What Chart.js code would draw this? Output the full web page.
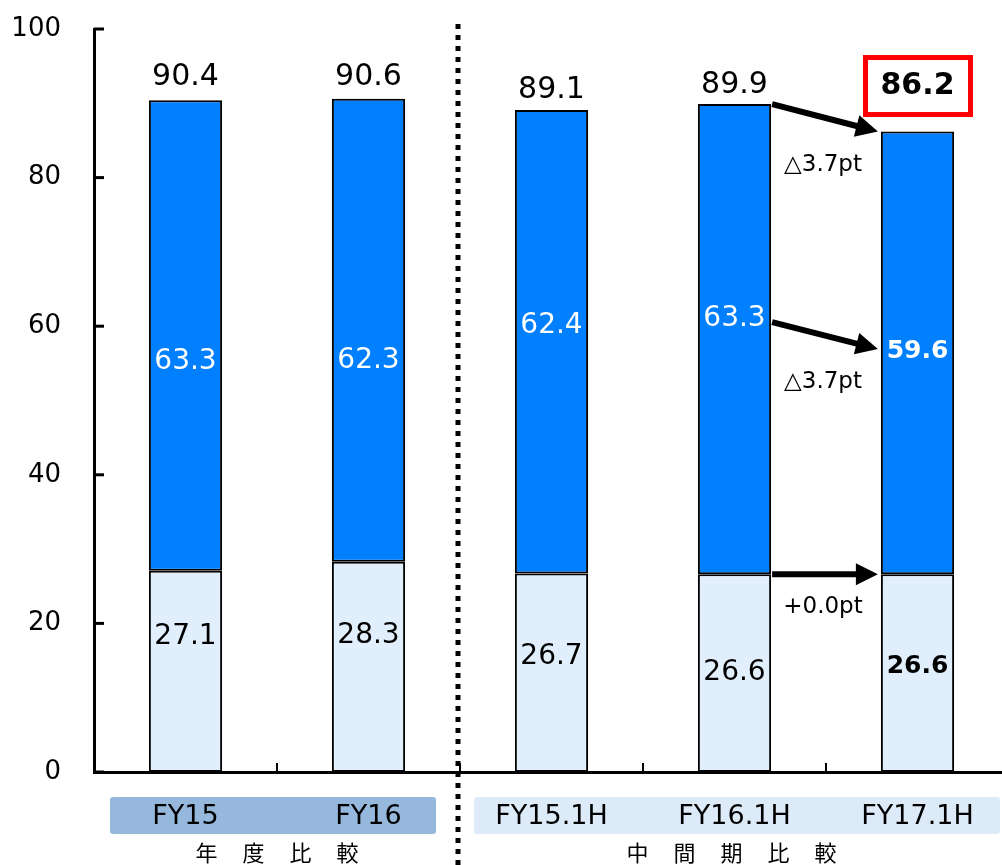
<!DOCTYPE html>
<html>
<head>
<meta charset="utf-8">
<script src="https://cdn.jsdelivr.net/npm/chart.js@4.4.1/dist/chart.umd.min.js"></script>
<style>
  html, body { margin: 0; padding: 0; background: #fff; overflow: hidden; }
  #wrap { width: 1002px; height: 865px; overflow: hidden; }
</style>
</head>
<body>
<div id="wrap"><canvas id="myChart" width="1010" height="865"></canvas></div>
<script>
// values
const categories = ["FY15", "FY16", "FY15.1H", "FY16.1H", "FY17.1H"];
const lowerValues = [27.1, 28.3, 26.7, 26.6, 26.6];
const upperValues = [63.3, 62.3, 62.4, 63.3, 59.6];
const totals = [90.4, 90.6, 89.1, 89.9, 86.2];
const yTicks = [0, 20, 40, 60, 80, 100];
const groupNames = ["年度比較", "中間期比較"];
const changeLabels = ["△3.7pt", "△3.7pt", "+0.0pt"];

const FONT = "'DejaVu Sans', Verdana, sans-serif";

// small nudges so labels sit where the original puts them
const lowNudge = [-35, -31, -16, 0, -7];
const upNudge = [26, 30, -16, -20, -1];
const totNudge = [-23, -22, -20, -19, -45];

function labelPos(chart, ds, i, nudge) {
  const bar = chart.getDatasetMeta(ds).data[i];
  return { x: bar.x, y: (bar.y + bar.base) / 2 + nudge[i] };
}

function arrow(ctx, x1, y1, x2, y2) {
  const ang = Math.atan2(y2 - y1, x2 - x1);
  const head = 22, half = 11;
  const bx = x2 - head * Math.cos(ang), by = y2 - head * Math.sin(ang);
  ctx.save();
  ctx.strokeStyle = "#000";
  ctx.fillStyle = "#000";
  ctx.lineWidth = 6;
  ctx.beginPath();
  ctx.moveTo(x1, y1);
  ctx.lineTo(bx + 2 * Math.cos(ang), by + 2 * Math.sin(ang));
  ctx.stroke();
  ctx.beginPath();
  ctx.moveTo(x2, y2);
  ctx.lineTo(bx + half * Math.sin(ang), by - half * Math.cos(ang));
  ctx.lineTo(bx - half * Math.sin(ang), by + half * Math.cos(ang));
  ctx.closePath();
  ctx.fill();
  ctx.restore();
}

const decor = {
  id: "decor",
  afterDraw(chart) {
    const ctx = chart.ctx;
    const area = chart.chartArea;
    const x = chart.scales.x, y = chart.scales.y;
    const n = categories.length;
    const step = (area.right - area.left) / n;

    ctx.save();
    // inner tick marks
    ctx.strokeStyle = "#000";
    ctx.lineWidth = 3;
    yTicks.forEach(v => {
      const py = y.getPixelForValue(v);
      ctx.beginPath();
      ctx.moveTo(area.left, py);
      ctx.lineTo(area.left + 10, py);
      ctx.stroke();
    });
    ctx.lineWidth = 2;
    for (let i = 1; i < n; i++) {
      const px = area.left + step * i;
      ctx.beginPath();
      ctx.moveTo(px, area.bottom);
      ctx.lineTo(px, area.bottom - 9);
      ctx.stroke();
    }

    // segment labels
    ctx.textAlign = "center";
    ctx.textBaseline = "middle";
    categories.forEach((c, i) => {
      const last = i === n - 1;
      let p = labelPos(chart, 0, i, lowNudge);
      ctx.fillStyle = "#000";
      ctx.font = (last ? "bold 25px " : "28px ") + FONT;
      ctx.fillText(lowerValues[i].toFixed(1), p.x, p.y);
      p = labelPos(chart, 1, i, upNudge);
      ctx.fillStyle = "#fff";
      ctx.fillText(upperValues[i].toFixed(1), p.x, p.y);
      const bar = chart.getDatasetMeta(1).data[i];
      ctx.fillStyle = "#000";
      ctx.font = (last ? "bold 30px " : "30px ") + FONT;
      const ty = y.getPixelForValue(totals[i]) + totNudge[i];
      ctx.fillText(totals[i].toFixed(1), bar.x, ty);
      if (last) {
        ctx.strokeStyle = "#ff0000";
        ctx.lineWidth = 5;
        ctx.strokeRect(bar.x - 52, ty - 29, 105, 57);
      }
    });

    // change arrows between the last two bars
    const a = chart.getDatasetMeta(1).data[n - 2];
    const b = chart.getDatasetMeta(1).data[n - 1];
    const x1 = a.x + a.width / 2 + 1, x2 = b.x - b.width / 2 - 3;
    const pairs = [
      [y.getPixelForValue(totals[n - 2]), y.getPixelForValue(totals[n - 1])],
      [labelPos(chart, 1, n - 2, upNudge).y + 3, labelPos(chart, 1, n - 1, upNudge).y - 3],
      [y.getPixelForValue(lowerValues[n - 2]), y.getPixelForValue(lowerValues[n - 1])]
    ];
    ctx.font = "23px " + FONT;
    ctx.fillStyle = "#000";
    pairs.forEach((pr, k) => {
      arrow(ctx, x1, pr[0], x2, pr[1]);
      ctx.fillText(changeLabels[k], (x1 + x2) / 2 - 2, pr[1] + 33);
    });

    // category boxes & group names
    const boxTop = area.bottom + 25, boxH = 37;
    ctx.fillStyle = "#95b8dc";
    ctx.beginPath();
    ctx.roundRect(area.left + 16, boxTop, 326, boxH, 3);
    ctx.fill();
    ctx.fillStyle = "#ddebf9";
    ctx.beginPath();
    ctx.roundRect(area.left + step * 2 + 14, boxTop, 526, boxH, 3);
    ctx.fill();
    ctx.fillStyle = "#000";
    ctx.font = "27px " + FONT;
    categories.forEach((c, i) => {
      ctx.fillText(c, x.getPixelForValue(i), boxTop + boxH / 2 + 1);
    });
    ctx.font = "22px 'Noto Sans CJK JP'";
    const g0 = (area.left + area.left + step * 2) / 2;
    const g1 = (area.left + step * 2 + area.right) / 2 - 3;
    [[groupNames[0], g0], [groupNames[1], g1]].forEach(([txt, cx]) => {
      const chars = Array.from(txt);
      const sp = 47;
      const start = cx - sp * (chars.length - 1) / 2;
      chars.forEach((ch, k) => ctx.fillText(ch, start + sp * k, area.bottom + 81));
    });

    // dotted divider
    ctx.strokeStyle = "#000";
    ctx.lineWidth = 5;
    ctx.setLineDash([5, 6]);
    const dx = area.left + step * 2 - 2;
    ctx.beginPath();
    ctx.moveTo(dx, 24);
    ctx.lineTo(dx, chart.height);
    ctx.stroke();
    ctx.restore();
  }
};

const ctx = document.getElementById("myChart").getContext("2d");
new Chart(ctx, {
  type: "bar",
  data: {
    labels: categories,
    datasets: [
      {
        data: lowerValues,
        backgroundColor: "#e1eefc",
        borderColor: "#000",
        borderWidth: 2,
        borderSkipped: false,
        barPercentage: 0.4,
        categoryPercentage: 1
      },
      {
        data: upperValues,
        backgroundColor: "#0080ff",
        borderColor: "#000",
        borderWidth: 2,
        borderSkipped: false,
        barPercentage: 0.4,
        categoryPercentage: 1
      }
    ]
  },
  options: {
    responsive: false,
    animation: false,
    layout: { padding: { left: 0, right: 1, top: 29, bottom: 93 } },
    plugins: { legend: { display: false }, tooltip: { enabled: false } },
    scales: {
      x: {
        stacked: true,
        grid: { display: false, drawTicks: false },
        border: { display: true, color: "#000", width: 3 },
        ticks: { display: false },
        afterFit: s => { s.height = 0; s.paddingLeft = 0; s.paddingRight = 0; }
      },
      y: {
        stacked: true,
        min: 0,
        max: 100,
        grid: { display: false, drawTicks: false },
        border: { display: true, color: "#000", width: 3 },
        ticks: {
          stepSize: 20,
          padding: 33,
          color: "#000",
          font: { family: FONT, size: 26 }
        },
        afterFit: s => { s.width = 94; s.paddingTop = 0; s.paddingBottom = 0; }
      }
    }
  },
  plugins: [decor]
});
</script>
</body>
</html>
